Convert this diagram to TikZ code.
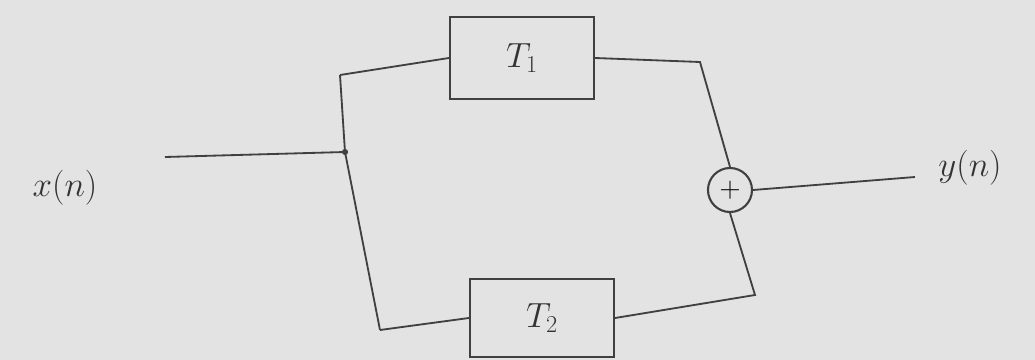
\documentclass[tikz,border=0pt]{standalone}
\usetikzlibrary{calc}
\begin{document}
\begin{tikzpicture}[x=0.025cm,y=-0.025cm,
  wire/.style={draw=black!75, line width=1.3pt},
  blockbox/.style={draw=black!75, line width=1.5pt, minimum width=3.6cm, minimum height=2.05cm, inner sep=0pt},
  lbl/.style={text=black!80, font=\fontsize{26}{28}\selectfont},
  sumnode/.style={draw=black!75, line width=1.5pt, circle, minimum size=1.1cm, inner sep=0pt, font=\fontsize{20}{22}\selectfont}]
\fill[gray!22] (0,0) rectangle (1035,360);
\useasboundingbox (0,0) rectangle (1035,360);
\node[lbl] (x) at (65,188) {$x(n)$};
\node[lbl] (y) at (970,168) {$y(n)$};
\node[blockbox] (t1) at (522,58) {};
\node[lbl] at (t1) {$T_1$};
\node[blockbox, minimum height=1.95cm] (t2) at (542,318) {};
\node[lbl] at (t2) {$T_2$};
\node[sumnode] (s) at (730,190) {$+$};
\coordinate (in) at (165,157);
\coordinate (j) at (345,152);
\coordinate (tl) at (340,75);
\coordinate (bl) at (380,330);
\coordinate (tr) at (700,62);
\coordinate (br) at (755,295);
\coordinate (out) at (915,177);
\draw[wire] (in) -- (j);
\fill[black!75] (j) circle (2.2pt);
\draw[wire] (tl) -- (j) -- (bl);
\draw[wire] (tl) -- (t1.west);
\draw[wire] (bl) -- (t2.west);
\draw[wire] (t1.east) -- (tr) -- (s.north);
\draw[wire] (t2.east) -- (br) -- (s.south);
\draw[wire] (s.east) -- (out);
\end{tikzpicture}
\end{document}
